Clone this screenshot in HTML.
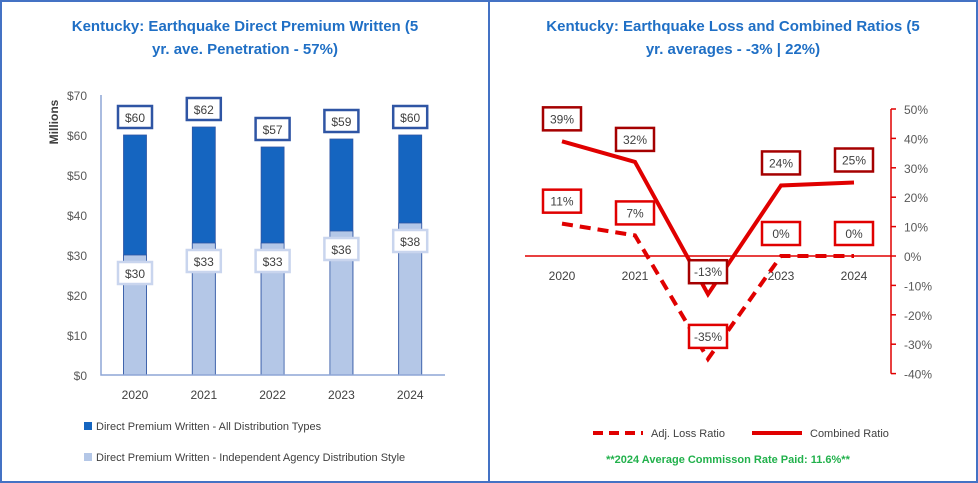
<!DOCTYPE html>
<html><head><meta charset="utf-8"><style>
body{margin:0;background:#fff;}
svg{display:block;font-family:"Liberation Sans",sans-serif;}
</style></head><body>
<svg width="978" height="483" viewBox="0 0 978 483">
<rect x="1" y="1" width="976" height="481" fill="#fff" stroke="#4472c4" stroke-width="2"/>
<line x1="489" y1="0" x2="489" y2="483" stroke="#4472c4" stroke-width="2"/>
<text x="245" y="31" text-anchor="middle" font-size="15" font-weight="bold" fill="#1f6fc5">Kentucky: Earthquake Direct Premium Written (5</text>
<text x="245" y="54" text-anchor="middle" font-size="15" font-weight="bold" fill="#1f6fc5">yr. ave. Penetration - 57%)</text>
<text x="733" y="31" text-anchor="middle" font-size="15" font-weight="bold" fill="#1f6fc5">Kentucky: Earthquake Loss and Combined Ratios (5</text>
<text x="733" y="54" text-anchor="middle" font-size="15" font-weight="bold" fill="#1f6fc5">yr. averages - -3% | 22%)</text>
<g id="left"></g>
<g id="right"></g>
<g>
<rect x="84" y="422" width="8" height="8" fill="#1565c0"/>
<text x="96" y="430" font-size="11" fill="#404040">Direct Premium Written - All Distribution Types</text>
<rect x="84" y="453" width="8" height="8" fill="#b4c7e7"/>
<text x="96" y="461" font-size="11" fill="#404040">Direct Premium Written - Independent Agency Distribution Style</text>
</g>
<g>
<line x1="593" y1="433" x2="643" y2="433" stroke="#e00000" stroke-width="4" stroke-dasharray="10,6"/>
<text x="651" y="437" font-size="11" fill="#404040">Adj. Loss Ratio</text>
<line x1="752" y1="433" x2="802" y2="433" stroke="#e00000" stroke-width="4"/>
<text x="810" y="437" font-size="11" fill="#404040">Combined Ratio</text>
<text x="728" y="463" text-anchor="middle" font-size="11" font-weight="bold" fill="#22b14c">**2024 Average Commisson Rate Paid: 11.6%**</text>
</g>
</svg>
<script>
const years=["2020","2021","2022","2023","2024"];
const allTypes=[60,62,57,59,60];
const independent=[30,33,33,36,38];
const dollarTicks=[0,10,20,30,40,50,60,70];
const lossRatio=[11,7,-35,0,0];
const combinedRatio=[39,32,-13,24,25];
const pctTicks=[50,40,30,20,10,0,-10,-20,-30,-40];

const NS="http://www.w3.org/2000/svg";
function mk(p,t,a,txt){const e=document.createElementNS(NS,t);for(const k in a)e.setAttribute(k,a[k]);if(txt!==undefined)e.textContent=txt;p.appendChild(e);return e;}
const L=document.getElementById('left');
const ly=v=>375-v*4;
const lx=i=>135+i*68.8;
mk(L,'text',{x:58,y:122,transform:'rotate(-90 58 122)','text-anchor':'middle','font-size':12,'font-weight':'bold',fill:'#404040',},'Millions');
dollarTicks.forEach(v=>{const t=mk(L,'text',{x:87,y:ly(v)+5,'text-anchor':'end','font-size':12,fill:'#595959'},'$'+v);

});
years.forEach((y,i)=>{
const x=lx(i);
const b1=mk(L,'rect',{x:x-11.5,y:ly(allTypes[i]),width:23,height:ly(0)-ly(allTypes[i]),fill:'#1565c0',stroke:'#2f55a4','stroke-width':0.8});


const b2=mk(L,'rect',{x:x-11.5,y:ly(independent[i]),width:23,height:ly(0)-ly(independent[i]),fill:'#b4c7e7',stroke:'#2f55a4','stroke-width':0.8});


const g1=mk(L,'g',{});


const c1=ly(allTypes[i])-18;
mk(g1,'rect',{x:x-17,y:c1-11,width:34,height:22,fill:'#fff',stroke:'#2f55a4','stroke-width':2.5});
mk(g1,'text',{x:x,y:c1+5,'text-anchor':'middle','font-size':12,fill:'#404040'},'$'+allTypes[i]);
const g2=mk(L,'g',{});


const cy2=ly(independent[i])+18;
mk(g2,'rect',{x:x-17,y:cy2-11,width:34,height:22,fill:'#fff',stroke:'#c9d5ee','stroke-width':2.5});
mk(g2,'text',{x:x,y:cy2+5,'text-anchor':'middle','font-size':12,fill:'#404040'},'$'+independent[i]);
const t=mk(L,'text',{x:x,y:399,'text-anchor':'middle','font-size':12,fill:'#404040'},y);


});
const ax=mk(L,'path',{d:'M101,95 V375 H445',fill:'none',stroke:'#8ea5d6','stroke-width':1.5});


const R=document.getElementById('right');
const ry=v=>256-v*2.94;
const rx=i=>562+i*73;
const z=mk(R,'line',{x1:525,y1:ry(0),x2:891,y2:ry(0),stroke:'#e00000','stroke-width':1.5});


const ra=mk(R,'line',{x1:891,y1:ry(50),x2:891,y2:ry(-40),stroke:'#e00000','stroke-width':1.5});


pctTicks.forEach(v=>{
mk(R,'line',{x1:891,y1:ry(v),x2:896,y2:ry(v),stroke:'#e00000','stroke-width':1.5});
const t=mk(R,'text',{x:904,y:ry(v)+5,'font-size':12,fill:'#595959'},v+'%');

});
years.forEach((y,i)=>{const t=mk(R,'text',{x:rx(i),y:280,'text-anchor':'middle','font-size':12,fill:'#404040'},y);

});
const lp=mk(R,'polyline',{points:lossRatio.map((v,i)=>rx(i)+','+ry(v)).join(' '),fill:'none',stroke:'#e00000','stroke-width':4,'stroke-dasharray':'11,7'});


const cp=mk(R,'polyline',{points:combinedRatio.map((v,i)=>rx(i)+','+ry(v)).join(' '),fill:'none',stroke:'#e00000','stroke-width':4});


function lab(v,i,col,name){
const g=mk(R,'g',{});


const cy=ry(v)-23, x=rx(i);
mk(g,'rect',{x:x-19,y:cy-11,width:38,height:23,fill:'#fff',stroke:col,'stroke-width':2.5});
mk(g,'text',{x:x,y:cy+5,'text-anchor':'middle','font-size':12,fill:'#404040'},v+'%');}
lossRatio.forEach((v,i)=>lab(v,i,'#e00000','label-loss-'+years[i]));
combinedRatio.forEach((v,i)=>lab(v,i,'#a50000','label-combined-'+years[i]));
</script>
</body></html>
